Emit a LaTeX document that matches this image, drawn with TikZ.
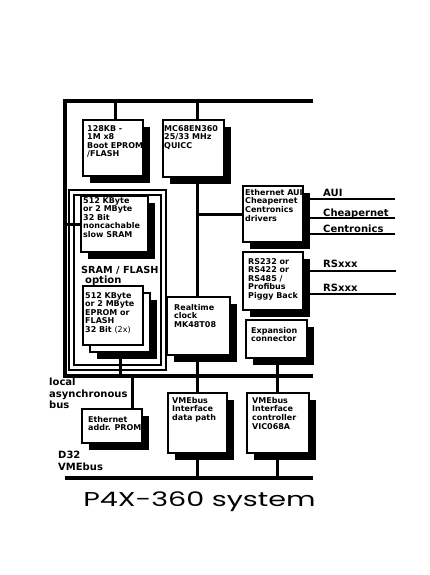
\documentclass[tikz,border=0pt]{standalone}
\usepackage{fontspec}
\setmainfont{DejaVu Sans}
\newfontfamily\titlefont{Poppins}
\usetikzlibrary{shadows}
\tikzset{
  bus/.style={line width=4pt, line join=miter},
  conn/.style={line width=3pt},
  sig/.style={line width=2pt},
  blk/.style={draw, line width=2pt, fill=white, anchor=north west, inner sep=0pt, outer sep=0pt,
    drop shadow={opacity=1, fill=black, shadow xshift=7pt, shadow yshift=-7pt}},
  stackblk/.style={draw, line width=2pt, fill=white, anchor=north west, inner sep=0pt, outer sep=0pt,
    general shadow={fill=black, shadow xshift=14pt, shadow yshift=-14pt},
    general shadow={fill=white, draw=black, line width=2pt, shadow xshift=7pt, shadow yshift=-7pt}},
  frame/.style={draw, line width=2pt, double=white, double distance=3pt, anchor=north west, inner sep=0pt, outer sep=0pt},
  btxt/.style={anchor=north west, inner sep=0pt, align=left, font=\bfseries\fontsize{8}{8.6}\selectfont},
  lbl/.style={anchor=base west, inner sep=0pt, font=\bfseries\fontsize{10}{11}\selectfont},
}
\begin{document}
\begin{tikzpicture}[x=1pt,y=-1pt]
\useasboundingbox (0,0) rectangle (429,575);
\fill[white] (0,0) rectangle (429,575);

% bus coordinates
\coordinate (TL) at (65,101);
\coordinate (TR) at (313,101);
\coordinate (LL) at (65,376);
\coordinate (LR) at (313,376);
\coordinate (VL) at (65,478);
\coordinate (VR) at (313,478);
\coordinate (C1) at (197,101);
\coordinate (C2) at (277,376);
\coordinate (aui) at (395,199);
\coordinate (chp) at (395,218);
\coordinate (cen) at (395,234);
\coordinate (rs1) at (396,271);
\coordinate (rs2) at (396,294);

% frame of SRAM / FLASH option
\node[frame, minimum width=92pt, minimum height=175pt] (frame) at (71,192) {};

% boxes
\node[blk, minimum width=60pt, minimum height=56pt] (boot) at (83,120) {};
\node[blk, minimum width=61pt, minimum height=57pt] (mc) at (163,120) {};
\node[blk, minimum width=67pt, minimum height=56pt] (sram) at (81,196) {};
\node[stackblk, minimum width=60pt, minimum height=59pt] (ep) at (83,286) {};
\node[blk, minimum width=60pt, minimum height=56pt] (eth) at (243,186) {};
\node[blk, minimum width=60pt, minimum height=58pt] (rs) at (243,252) {};
\node[blk, minimum width=63pt, minimum height=58pt] (rtc) at (167,297) {};
\node[blk, minimum width=61pt, minimum height=38pt] (exp) at (246,320) {};
\node[blk, minimum width=60pt, minimum height=34pt] (eap) at (82,409) {};
\node[blk, minimum width=59pt, minimum height=60pt] (vdp) at (168,393) {};
\node[blk, minimum width=62pt, minimum height=60pt] (vic) at (247,393) {};

% buses
\draw[bus] (TR) -- (TL) -- (LL) -- (LR);
\draw[bus] (VL) -- (VR);

% connectors
\draw[conn] ([xshift=2pt]boot.north) -- ([xshift=2pt]boot.north |- TL);
\draw[conn] (C1) -- (C1 |- mc.north);
\draw[conn] ([yshift=-7pt]mc.south -| C1) -- (rtc.north -| C1);
\draw[conn] ([yshift=-7pt]rtc.south -| C1) -- (LL -| C1);
\draw[conn] (LL -| C1) -- (vdp.north -| C1);
\draw[conn] ([yshift=-7pt]vdp.south -| C1) -- (VL -| C1);
\draw[conn] (C1 |- eth.west) -- (eth.west);
\draw[conn] (sram.west -| TL) -- (sram.west);
\draw[conn] ([xshift=7pt,yshift=-14pt]ep.south) -- ([xshift=7pt]ep.south |- LL);
\draw[conn] ([yshift=-7pt]exp.south -| C2) -- (C2);
\draw[conn] (C2) -- (vic.north -| C2);
\draw[conn] ([yshift=-7pt]vic.south -| C2) -- (VL -| C2);
\draw[conn] ([xshift=20pt]eap.north) -- ([xshift=20pt]eap.north |- LL);
\draw[sig] (aui -| eth.east) -- (aui);
\draw[sig] (chp -| eth.east) -- (chp);
\draw[sig] (cen -| eth.east) -- (cen);
\draw[sig] (rs1 -| rs.east) -- (rs1);
\draw[sig] (rs2 -| rs.east) -- (rs2);

% box texts
\node[btxt] (bootT) at (87,125) {128KB -\\1M x8\\Boot EPROM\\/FLASH};
\node[btxt] (mcT) at (164,125) {MC68EN360\\25/33 MHz\\QUICC};
\node[btxt] (sramT) at (83,197) {512 KByte\\or 2 MByte\\32 Bit\\noncachable\\slow SRAM};
\node[btxt] (epT) at (85,292) {512 KByte\\or 2 MByte\\EPROM or\\FLASH\\32 Bit {\mdseries (2x)}};
\node[btxt] (ethT) at (245,189) {Ethernet AUI\\Cheapernet\\Centronics\\drivers};
\node[btxt] (rsT) at (248,258) {RS232 or\\RS422 or\\RS485 /\\Profibus\\Piggy Back};
\node[btxt] (rtcT) at (174,304) {Realtime\\clock\\MK48T08};
\node[btxt] (expT) at (251,327) {Expansion\\connector};
\node[btxt] (eapT) at (88,416) {Ethernet\\addr. PROM};
\node[btxt] (vdpT) at (172,397) {VMEbus\\Interface\\data path};
\node[btxt] (vicT) at (252,397) {VMEbus\\Interface\\controller\\VIC068A};

% labels
\node[lbl, font=\bfseries\fontsize{9.7}{11}\selectfont] (optA) at (81,273) {SRAM / FLASH};
\node[lbl] (optB) at (85,283) {option};
\node[lbl] (auiL) at (323,196.5) {AUI};
\node[lbl] (chpL) at (323,216) {Cheapernet};
\node[lbl] (cenL) at (323,232) {Centronics};
\node[lbl] (rs1L) at (323,267) {RSxxx};
\node[lbl] (rs2L) at (323,291.5) {RSxxx};
\node[lbl] (locA) at (49,385) {local};
\node[lbl] (locB) at (49,397) {asynchronous};
\node[lbl] (locC) at (49,408) {bus};
\node[lbl] (d32A) at (58,458) {D32};
\node[lbl] (d32B) at (58,470) {VMEbus};

% title
\node[anchor=base west, inner sep=0pt, font=\titlefont\fontsize{20}{24}\selectfont, xscale=1.43] (title) at (83,506) {P4X-360 system};
\end{tikzpicture}
\end{document}
